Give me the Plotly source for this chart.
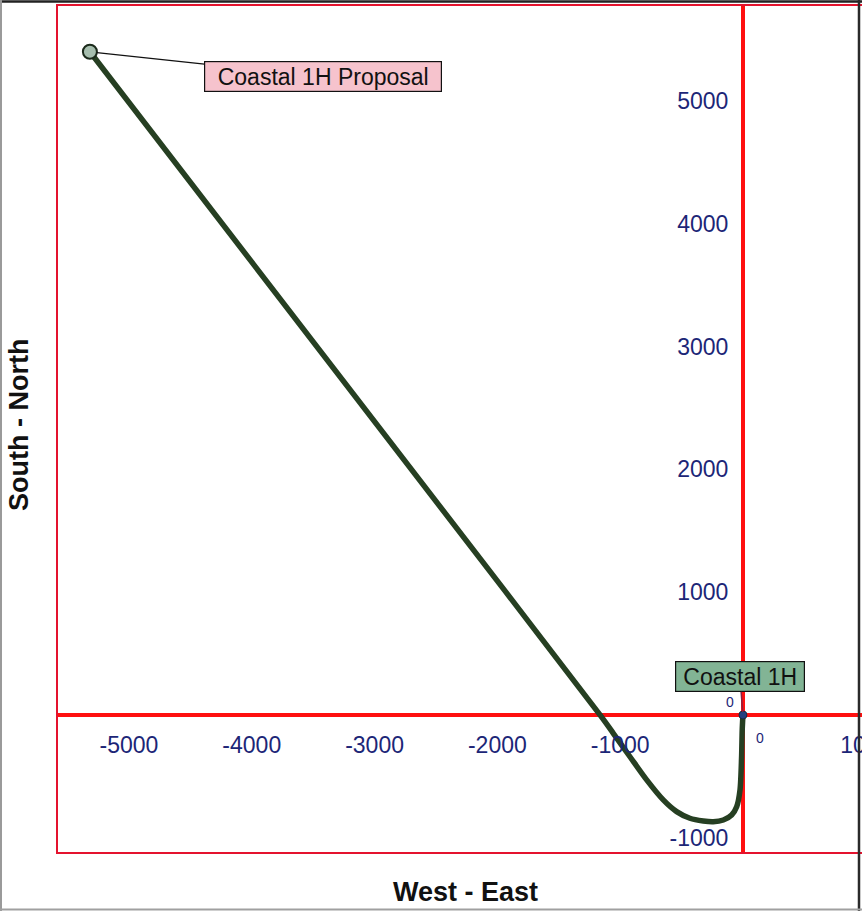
import plotly.graph_objects as go

# ---- data (feet, West-East / South-North) ----
path_x = [0, -6, -11, -24, -51, -92, -160, -242, -323, -432, -540, -649, -784, -920, -1056, -1164, -1930, -5318]
path_y = [0, -122, -339, -611, -747, -814, -855, -869, -863, -841, -787, -692, -529, -340, -149, 0, 1000, 5401]

surface_x = [0]
surface_y = [0]
target_x = [-5318]
target_y = [5401]

x_ticks = [-5000, -4000, -3000, -2000, -1000, 1000]
y_ticks = [-1000, 1000, 2000, 3000, 4000, 5000]

x_range = [-5586, 1279]
y_range = [-1124, 5782]

label_target = "Coastal 1H Proposal"
label_surface = "Coastal 1H"

FONT = "Liberation Sans, Arial, sans-serif"
TICK_COLOR = "#1c2677"

VIEW_W = 862
W, H = 900, 911
ML, MR, MT, MB = 57, 0, 5, 58
PW = W - ML - MR
PH = H - MT - MB


def px_to_paper_x(px):
    return (px - ML) / PW


def px_to_paper_y(py):
    return (H - MB - py) / PH


fig = go.Figure()

fig.add_trace(go.Scatter(
    x=path_x, y=path_y, mode="lines",
    line=dict(color="#263f22", width=5.5, shape="spline", smoothing=0.8),
    hoverinfo="skip", showlegend=False,
))
fig.add_trace(go.Scatter(
    x=surface_x, y=surface_y, mode="markers",
    marker=dict(size=8, color="#23407f", line=dict(color="#1a2a40", width=1)),
    hoverinfo="skip", showlegend=False,
))
fig.add_trace(go.Scatter(
    x=target_x, y=target_y, mode="markers",
    marker=dict(size=14, color="#a6beae", line=dict(color="#1b2a1b", width=2)),
    hoverinfo="skip", showlegend=False,
))

x_pos = (0 - y_range[0]) / (y_range[1] - y_range[0])
y_pos = (0 - x_range[0]) / (x_range[1] - x_range[0])

fig.update_layout(
    width=W, height=H,
    margin=dict(l=ML, r=MR, t=MT, b=MB, pad=0),
    paper_bgcolor="white", plot_bgcolor="white",
    font=dict(family=FONT),
    xaxis=dict(
        range=x_range, anchor="free", position=x_pos, side="bottom",
        showgrid=False, showline=False,
        zeroline=True, zerolinecolor="#ff1010", zerolinewidth=4,
        tickmode="array", tickvals=x_ticks, ticktext=[str(v) for v in x_ticks],
        ticks="outside", ticklen=9, tickcolor="rgba(0,0,0,0)",
        tickfont=dict(family=FONT, size=23, color=TICK_COLOR),
        ticklabeloverflow="allow", automargin=False, fixedrange=True,
    ),
    yaxis=dict(
        range=y_range, anchor="free", position=y_pos, side="left",
        showgrid=False, showline=False,
        zeroline=True, zerolinecolor="#ff1010", zerolinewidth=4,
        tickmode="array", tickvals=y_ticks, ticktext=[str(v) for v in y_ticks],
        ticks="outside", ticklen=10, tickcolor="rgba(0,0,0,0)",
        tickfont=dict(family=FONT, size=23, color=TICK_COLOR),
        ticklabeloverflow="allow", automargin=False, fixedrange=True,
    ),
)

shapes = []
# plot-area border (right side lies beyond the visible page)
shapes.append(dict(type="rect", xref="paper", yref="paper", x0=0, x1=1, y0=0, y1=1,
                   line=dict(color="#e4132e", width=2), fillcolor="rgba(0,0,0,0)", layer="above"))
# scanned page frame
shapes.append(dict(type="line", xref="paper", yref="paper",
                   x0=px_to_paper_x(0), x1=px_to_paper_x(VIEW_W), y0=px_to_paper_y(1.5), y1=px_to_paper_y(1.5),
                   line=dict(color="#222222", width=2.5)))
shapes.append(dict(type="line", xref="paper", yref="paper",
                   x0=px_to_paper_x(1), x1=px_to_paper_x(1), y0=px_to_paper_y(0), y1=px_to_paper_y(H),
                   line=dict(color="#9a9a9a", width=2)))
shapes.append(dict(type="line", xref="paper", yref="paper",
                   x0=px_to_paper_x(859), x1=px_to_paper_x(859), y0=px_to_paper_y(0), y1=px_to_paper_y(H),
                   line=dict(color="#2a2a2a", width=2.5)))
shapes.append(dict(type="line", xref="paper", yref="paper",
                   x0=px_to_paper_x(0), x1=px_to_paper_x(VIEW_W), y0=px_to_paper_y(909.5), y1=px_to_paper_y(909.5),
                   line=dict(color="#a0a0a0", width=2)))
fig.update_layout(shapes=shapes)

annotations = [
    dict(x=target_x[0], y=target_y[0], xref="x", yref="y", text=label_target,
         showarrow=True, arrowhead=0, arrowwidth=1.3, arrowcolor="#111111", standoff=7,
         ax=233, ay=25, bgcolor="#f6c3cd", bordercolor="#111111", borderwidth=1.2,
         borderpad=1, width=234, height=27,
         font=dict(family=FONT, size=23, color="#111111")),
    dict(x=surface_x[0], y=surface_y[0], xref="x", yref="y", text=label_surface,
         showarrow=True, arrowhead=0, arrowwidth=1.5, arrowcolor="#8a2040", standoff=3,
         ax=-3, ay=-38, bgcolor="#82b495", bordercolor="#111111", borderwidth=1.2,
         borderpad=1, width=126, height=27,
         font=dict(family=FONT, size=23, color="#111111")),
    # small origin tick labels
    dict(x=0, y=0, xref="x", yref="y", text="0", showarrow=False,
         xshift=-13, yshift=13, font=dict(family=FONT, size=14, color=TICK_COLOR)),
    dict(x=0, y=0, xref="x", yref="y", text="0", showarrow=False,
         xshift=17, yshift=-23, font=dict(family=FONT, size=14, color=TICK_COLOR)),
    # axis titles
    dict(x=px_to_paper_x(465), y=px_to_paper_y(892), xref="paper", yref="paper",
         xanchor="center", yanchor="middle",
         text="<b>West - East</b>", showarrow=False,
         font=dict(family=FONT, size=27, color="#111111")),
    dict(x=px_to_paper_x(19), y=px_to_paper_y(425), xref="paper", yref="paper",
         xanchor="center", yanchor="middle",
         text="<b>South - North</b>", showarrow=False, textangle=-90,
         font=dict(family=FONT, size=27, color="#111111")),
]
fig.update_layout(annotations=annotations)

fig.write_html(
    "out.html",
    config={"displayModeBar": False},
    post_script="document.body.style.margin='0';document.body.style.overflow='hidden';",
)
